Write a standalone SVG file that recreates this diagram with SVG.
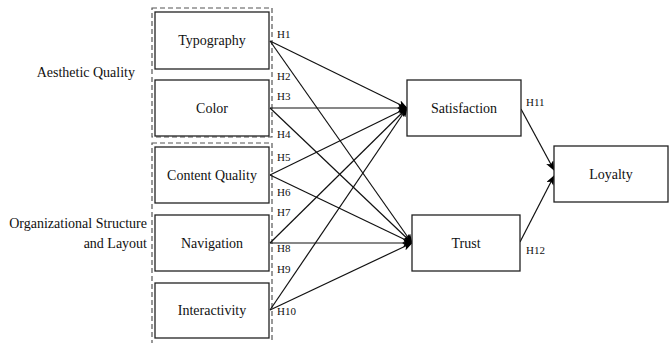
<svg xmlns="http://www.w3.org/2000/svg" width="671" height="343" viewBox="0 0 671 343" font-family="'Liberation Serif', 'Times New Roman', 'DejaVu Serif', serif">
<defs>
<marker id="arr" markerWidth="10" markerHeight="8" refX="9" refY="4" orient="auto" markerUnits="userSpaceOnUse">
<path d="M0,0 L10,4 L0,8 L2.5,4 Z" fill="#000"/>
</marker>
<style>
.box{fill:#fff;stroke:#222;stroke-width:1.3}
.grp{fill:none;stroke:#555;stroke-width:1.2;stroke-dasharray:5,3}
.t{font-size:14px;fill:#111;text-anchor:middle}
.h{font-size:11px;fill:#111}
.g{font-size:14px;fill:#111;text-anchor:end}
.c{stroke:#111;stroke-width:1.2;fill:none;marker-end:url(#arr)}
</style>
</defs>
<rect width="671" height="343" fill="#fff"/>
<g id="groups">
<rect class="grp" x="152" y="8" width="120" height="129"/>
<rect class="grp" x="152" y="143" width="120" height="205"/>
<text class="g" x="135" y="77">Aesthetic Quality</text>
<text class="g" x="147" y="228">Organizational Structure</text>
<text class="g" x="147" y="248">and Layout</text>
</g>
<g id="connectors">
<line class="c" x1="270" y1="41" x2="407" y2="108"/>
<line class="c" x1="270" y1="108" x2="407" y2="108"/>
<line class="c" x1="270" y1="175" x2="407" y2="108"/>
<line class="c" x1="270" y1="243" x2="407" y2="108"/>
<line class="c" x1="270" y1="310" x2="407" y2="108"/>
<line class="c" x1="270" y1="41" x2="412" y2="243"/>
<line class="c" x1="270" y1="108" x2="412" y2="243"/>
<line class="c" x1="270" y1="175" x2="412" y2="243"/>
<line class="c" x1="270" y1="243" x2="412" y2="243"/>
<line class="c" x1="270" y1="310" x2="412" y2="243"/>
<line class="c" x1="521" y1="109" x2="554" y2="170"/>
<line class="c" x1="520" y1="242" x2="554" y2="176"/>
<text class="h" x="277" y="38">H1</text>
<text class="h" x="277" y="80">H2</text>
<text class="h" x="277" y="100">H3</text>
<text class="h" x="277" y="138">H4</text>
<text class="h" x="277" y="161">H5</text>
<text class="h" x="277" y="196">H6</text>
<text class="h" x="277" y="216">H7</text>
<text class="h" x="277" y="252">H8</text>
<text class="h" x="277" y="273">H9</text>
<text class="h" x="277" y="315">H10</text>
<text class="h" x="526" y="106">H11</text>
<text class="h" x="526" y="254">H12</text>
</g>
<g id="typography"><rect class="box" x="155" y="12" width="114" height="57"/><text class="t" x="212" y="45">Typography</text></g>
<g id="color"><rect class="box" x="155" y="80" width="114" height="56"/><text class="t" x="212" y="113">Color</text></g>
<g id="content"><rect class="box" x="155" y="147" width="114" height="56"/><text class="t" x="212" y="180">Content Quality</text></g>
<g id="navigation"><rect class="box" x="155" y="215" width="114" height="56"/><text class="t" x="212" y="248">Navigation</text></g>
<g id="interactivity"><rect class="box" x="155" y="283" width="114" height="55"/><text class="t" x="212" y="315">Interactivity</text></g>
<g id="satisfaction"><rect class="box" x="407" y="80" width="114" height="56"/><text class="t" x="464" y="113">Satisfaction</text></g>
<g id="trust"><rect class="box" x="412" y="215" width="108" height="56"/><text class="t" x="466" y="248">Trust</text></g>
<g id="loyalty"><rect class="box" x="554" y="146" width="114" height="56"/><text class="t" x="611" y="179">Loyalty</text></g>
</svg>
